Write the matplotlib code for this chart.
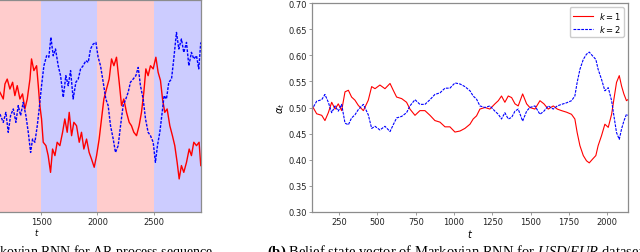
"""Belief state vectors of a Markovian RNN (AR process and USD/EUR)"""

import matplotlib
matplotlib.use('Agg')
import matplotlib.pyplot as plt

plt.rcParams['mathtext.rm'] = 'Liberation Serif'
plt.rcParams['mathtext.it'] = 'Liberation Serif:italic'
plt.rcParams['mathtext.bf'] = 'Liberation Serif:bold'

# --- AR process panel (only the right part is visible) ---
t_ar_k1 = [1133, 1163, 1178, 1198, 1222, 1246, 1266, 1287, 1311, 1334,
           1355, 1376, 1400, 1414, 1435, 1459, 1474, 1488, 1503, 1518,
           1542, 1562, 1583, 1601, 1622, 1642, 1666, 1690, 1710, 1731,
           1749, 1770, 1790, 1814, 1838, 1858, 1879, 1903, 1926, 1947,
           1971, 1992, 2015, 2036, 2057, 2080, 2104, 2125, 2146, 2169,
           2193, 2214, 2234, 2258, 2282, 2302, 2323, 2347, 2370, 2391,
           2412, 2430, 2450, 2471, 2495, 2519, 2539, 2560, 2578, 2598,
           2619, 2643, 2666, 2687, 2708, 2726, 2746, 2767, 2791, 2815,
           2835, 2856, 2880, 2903, 2918]
ar_k1 = [0.565, 0.533, 0.604, 0.627, 0.580, 0.612, 0.549, 0.596, 0.533, 0.557,
         0.486, 0.533, 0.627, 0.722, 0.667, 0.690, 0.596, 0.502, 0.439, 0.329,
         0.313, 0.266, 0.187, 0.297, 0.266, 0.329, 0.313, 0.376, 0.439, 0.376,
         0.470, 0.360, 0.423, 0.407, 0.329, 0.376, 0.297, 0.344, 0.281, 0.250,
         0.211, 0.266, 0.344, 0.439, 0.533, 0.580, 0.627, 0.722, 0.690, 0.730,
         0.612, 0.502, 0.533, 0.470, 0.423, 0.407, 0.376, 0.360, 0.407, 0.470,
         0.565, 0.675, 0.643, 0.690, 0.675, 0.730, 0.659, 0.620, 0.533, 0.470,
         0.486, 0.407, 0.360, 0.313, 0.234, 0.156, 0.219, 0.187, 0.234, 0.297,
         0.266, 0.329, 0.313, 0.329, 0.219]
t_ar_k2 = [1133, 1163, 1186, 1207, 1228, 1252, 1275, 1296, 1317, 1340,
           1364, 1385, 1406, 1423, 1444, 1465, 1482, 1503, 1524, 1548,
           1568, 1586, 1607, 1627, 1651, 1672, 1696, 1719, 1740, 1761,
           1784, 1808, 1829, 1850, 1873, 1897, 1918, 1938, 1962, 1986,
           2006, 2027, 2051, 2074, 2095, 2116, 2140, 2160, 2184, 2205,
           2228, 2252, 2273, 2293, 2317, 2341, 2362, 2382, 2406, 2427,
           2450, 2471, 2495, 2515, 2533, 2554, 2575, 2592, 2613, 2634,
           2658, 2678, 2702, 2723, 2746, 2767, 2791, 2812, 2835, 2856,
           2880, 2900, 2918]
ar_k2 = [0.462, 0.423, 0.470, 0.376, 0.455, 0.486, 0.423, 0.502, 0.455, 0.517,
         0.455, 0.376, 0.281, 0.344, 0.329, 0.407, 0.486, 0.596, 0.690, 0.737,
         0.730, 0.824, 0.737, 0.769, 0.690, 0.643, 0.541, 0.643, 0.596, 0.667,
         0.533, 0.612, 0.627, 0.675, 0.690, 0.714, 0.706, 0.769, 0.792, 0.800,
         0.730, 0.690, 0.612, 0.533, 0.502, 0.407, 0.344, 0.281, 0.313, 0.407,
         0.502, 0.533, 0.565, 0.612, 0.627, 0.643, 0.682, 0.596, 0.533, 0.439,
         0.376, 0.360, 0.329, 0.234, 0.313, 0.376, 0.470, 0.549, 0.533, 0.612,
         0.627, 0.722, 0.847, 0.769, 0.816, 0.753, 0.800, 0.690, 0.753, 0.722,
         0.737, 0.675, 0.800]
# regime segments: (start, end, colour)
regimes = [(0, 1500, 'red'), (1500, 2000, 'blue'),
           (2000, 2500, 'red'), (2500, 2920, 'blue')]
ar_xticks = [1500, 2000, 2500]

# --- USD/EUR panel ---
t_usd = [70, 103, 136, 157, 179, 201, 223, 244, 266, 288,
         310, 331, 353, 375, 408, 440, 462, 484, 516, 549,
         582, 603, 625, 658, 690, 712, 745, 777, 810, 843,
         875, 908, 941, 973, 1006, 1039, 1071,
         1104, 1125, 1147, 1169, 1202, 1234, 1267, 1289, 1310, 1332,
         1354, 1376, 1398, 1419, 1448, 1474, 1495, 1528, 1561, 1587,
         1615, 1648, 1674, 1702, 1735, 1767, 1789, 1804, 1822, 1844,
         1865, 1883, 1904, 1926, 1941, 1963, 1985, 2007, 2029, 2044,
         2061, 2079, 2094, 2109, 2126, 2135]
usd_k1 = [0.505, 0.488, 0.485, 0.475, 0.49, 0.51, 0.497, 0.507, 0.494, 0.53,
          0.533, 0.52, 0.514, 0.504, 0.494, 0.514, 0.54, 0.536, 0.543, 0.536,
          0.546, 0.533, 0.52, 0.517, 0.51, 0.497, 0.485, 0.494, 0.494, 0.485,
          0.475, 0.472, 0.463, 0.463, 0.453, 0.455, 0.46,
          0.468, 0.478, 0.484, 0.497, 0.50, 0.497, 0.507, 0.513, 0.522, 0.51,
          0.522, 0.519, 0.507, 0.503, 0.526, 0.507, 0.50, 0.497, 0.513, 0.507,
          0.497, 0.503, 0.497, 0.494, 0.491, 0.487, 0.478, 0.452, 0.427, 0.408,
          0.398, 0.394, 0.401, 0.408, 0.427, 0.446, 0.468, 0.462, 0.487, 0.516,
          0.548, 0.561, 0.541, 0.526, 0.513, 0.515]
usd_k2 = [0.495, 0.512, 0.515, 0.525, 0.51, 0.49, 0.503, 0.493, 0.506, 0.47,
          0.467, 0.48, 0.486, 0.496, 0.506, 0.486, 0.46, 0.464, 0.457, 0.464,
          0.454, 0.467, 0.48, 0.483, 0.49, 0.503, 0.515, 0.506, 0.506, 0.515,
          0.525, 0.528, 0.537, 0.537, 0.547, 0.545, 0.54,
          0.532, 0.522, 0.516, 0.503, 0.50, 0.503, 0.493, 0.487, 0.478, 0.49,
          0.478, 0.481, 0.493, 0.497, 0.474, 0.493, 0.50, 0.503, 0.487, 0.493,
          0.503, 0.497, 0.503, 0.506, 0.509, 0.513, 0.522, 0.548, 0.573, 0.592,
          0.602, 0.606, 0.599, 0.592, 0.573, 0.554, 0.532, 0.538, 0.513, 0.484,
          0.452, 0.439, 0.459, 0.474, 0.487, 0.485]
usd_yticks = [0.30, 0.35, 0.40, 0.45, 0.50, 0.55, 0.60, 0.65, 0.70]
usd_xticks = [250, 500, 750, 1000, 1250, 1500, 1750, 2000]

W, H = 640, 253
fig = plt.figure(figsize=(W / 100, H / 100), dpi=100)


def style_axes(ax):
    for sp in ax.spines.values():
        sp.set_color('#8c8c8c')
        sp.set_linewidth(0.9)
    ax.tick_params(labelsize=6, length=2, width=0.6, color='#8c8c8c',
                   labelcolor='#222222', pad=1.5)


# left panel (its left part lies outside the picture)
ax1 = fig.add_axes([-127.6 / W, 40 / H, 328.6 / W, 212 / H])
for a, b, c in regimes:
    ax1.axvspan(a, b, color=c, alpha=0.2, lw=0)
ax1.plot(t_ar_k1, ar_k1, color='red', lw=1.0)
ax1.plot(t_ar_k2, ar_k2, color='blue', lw=1.0, ls=(0, (2, 1)))
ax1.set_xlim(0, 2920)
ax1.set_ylim(0, 1)
ax1.set_xticks(ar_xticks)
ax1.set_yticks([])
ax1.set_xlabel(r'$t$', fontsize=6, labelpad=0)
style_axes(ax1)

# right panel
ax2 = fig.add_axes([311.7 / W, 40 / H, 316.3 / W, 209 / H])
ax2.plot(t_usd, usd_k1, color='red', lw=0.8, label=r'$k=1$')
ax2.plot(t_usd, usd_k2, color='blue', lw=0.8, ls=(0, (2.5, 1)), label=r'$k=2$')
ax2.set_xlim(70.5, 2136)
ax2.set_ylim(0.30, 0.70)
ax2.set_yticks(usd_yticks)
ax2.set_xticks(usd_xticks)
ax2.set_xlabel(r'$t$', fontsize=7, labelpad=1)
ax2.set_ylabel(r'$\alpha_t$', fontsize=7, labelpad=1)
style_axes(ax2)
ax2.legend(loc='upper right', fontsize=6, handlelength=2.4, borderpad=0.35,
           labelspacing=0.25, edgecolor='#cccccc', framealpha=1,
           borderaxespad=0.5, handletextpad=0.8)

# captions (cut off at the bottom of the image)
fig.text(213 / W, -3 / H,
         r'$\mathbf{(a)}$ Belief state vector of Markovian RNN for AR process sequence',
         ha='right', va='baseline', fontsize=10, family='Liberation Serif',
         math_fontfamily='custom')
fig.text(267 / W, -3 / H,
         r'$\mathbf{(b)}$ Belief state vector of Markovian RNN for $\mathit{USD/EUR}$ dataset',
         ha='left', va='baseline', fontsize=10.5, family='Liberation Serif',
         math_fontfamily='custom')

fig.savefig('out.png', dpi=100)
